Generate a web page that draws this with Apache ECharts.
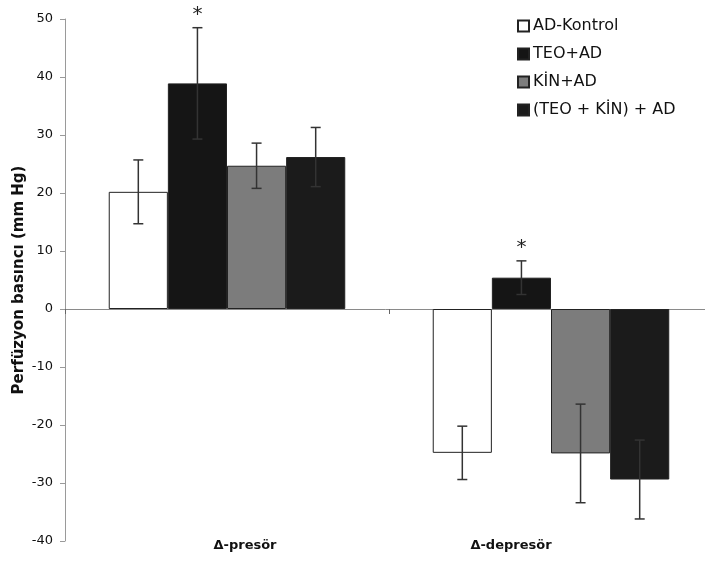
<!DOCTYPE html>
<html>
<head>
<meta charset="utf-8">
<script src="https://cdn.jsdelivr.net/npm/echarts@6/dist/echarts.min.js"></script>
<style>
html,body{margin:0;padding:0;background:#fff;}
#chart{width:705px;height:562px;}
</style>
</head>
<body>
<div id="chart"></div>
<script>
const categories = ['Δ-presör', 'Δ-depresör'];
const seriesNames = ['AD-Kontrol', 'TEO+AD', 'KİN+AD', '(TEO + KİN) + AD'];
const adKontrol = [20.2, -24.8];
const teoAd = [38.9, 5.4];
const kinAd = [24.7, -24.9];
const teoKinAd = [26.2, -29.4];
const adKontrolErr = [5.5, 4.6];
const teoAdErr = [9.6, 2.9];
const kinAdErr = [3.9, 8.5];
const teoKinAdErr = [5.1, 6.8];
const significant = [[0, 0], [1, 1], [0, 0], [0, 0]];
const yTicks = [-40, -30, -20, -10, 0, 10, 20, 30, 40, 50];

const values = [adKontrol, teoAd, kinAd, teoKinAd];
const errors = [adKontrolErr, teoAdErr, kinAdErr, teoKinAdErr];
const colors = ['#ffffff', '#151515', '#7c7c7c', '#1b1b1b'];
const GAP = 0.27;

const errData = [];
values.forEach((vals, s) => {
  vals.forEach((v, c) => {
    errData.push([c, v, errors[s][c], s, significant[s][c]]);
  });
});

const chart = echarts.init(document.getElementById('chart'), null, {renderer: 'canvas'});
const font = 'DejaVu Sans, Arial, sans-serif';

const barSeries = seriesNames.map((name, s) => ({
  name: name,
  type: 'bar',
  data: values[s],
  barGap: '0%',
  barCategoryGap: (GAP * 100) + '%',
  itemStyle: {color: colors[s], borderColor: '#222', borderWidth: 1},
  emphasis: {disabled: true},
  animation: false
}));

const option = {
  backgroundColor: '#ffffff',
  animation: false,
  grid: {left: 65, width: 648, top: 19, bottom: 21, containLabel: false, outerBoundsMode: 'none'},
  legend: {
    data: seriesNames,
    orient: 'vertical',
    left: 517,
    top: 18,
    padding: 0,
    itemWidth: 11,
    itemHeight: 11,
    itemGap: 12,
    icon: 'rect',
    textStyle: {fontFamily: font, fontSize: 16, color: '#111', padding: [0, 0, 0, -1]}
  },
  xAxis: [
    {
      type: 'category',
      data: categories,
      axisLine: {onZero: true, lineStyle: {color: '#8a8a8a', width: 1}},
      axisTick: {show: true, length: 5, lineStyle: {color: '#666'}},
      axisLabel: {show: false},
      splitLine: {show: false}
    },
    {
      type: 'category',
      data: categories,
      position: 'bottom',
      axisLine: {show: false, onZero: false},
      axisTick: {show: false},
      axisLabel: {
        show: true,
        margin: -2,
        formatter: function (v, i) { return i === 0 ? '{a|' + v + '}' : '{b|' + v + '}'; },
        rich: {
          a: {fontFamily: font, fontSize: 13, fontWeight: 'bold', color: '#111', padding: [0, 0, 0, 36]},
          b: {fontFamily: font, fontSize: 13, fontWeight: 'bold', color: '#111', padding: [0, 80, 0, 0]}
        }
      }
    }
  ],
  yAxis: {
    type: 'value',
    min: yTicks[0],
    max: yTicks[yTicks.length - 1],
    interval: 10,
    name: 'Perfüzyon basıncı (mm Hg)',
    nameLocation: 'middle',
    nameGap: 38,
    nameMoveOverlap: false,
    nameTextStyle: {fontFamily: font, fontSize: 15, fontWeight: 'bold', color: '#111'},
    axisLine: {show: true, lineStyle: {color: '#9a9a9a'}},
    axisTick: {show: true, length: 5, lineStyle: {color: '#9a9a9a'}},
    axisLabel: {fontFamily: font, fontSize: 13, color: '#111', margin: 12},
    splitLine: {show: false}
  },
  series: barSeries.concat([{
    type: 'custom',
    name: 'err',
    data: errData,
    z: 5,
    silent: true,
    renderItem: function (params, api) {
      const c = api.value(0), m = api.value(1), e = api.value(2), s = api.value(3), star = api.value(4);
      const band = api.size([1, 0])[0];
      const bw = band * (1 - GAP) / 4;
      const cx = api.coord([c, 0])[0] + (s - 1.5) * bw;
      const yT = api.coord([c, m + e])[1];
      const yB = api.coord([c, m - e])[1];
      const cap = 5;
      const st = {stroke: '#333', lineWidth: 1.5};
      const children = [
        {type: 'line', shape: {x1: cx, y1: yT, x2: cx, y2: yB}, style: st},
        {type: 'line', shape: {x1: cx - cap, y1: yT, x2: cx + cap, y2: yT}, style: st},
        {type: 'line', shape: {x1: cx - cap, y1: yB, x2: cx + cap, y2: yB}, style: st}
      ];
      if (star) {
        children.push({type: 'text', style: {text: '*', x: cx, y: yT - 13, align: 'center', verticalAlign: 'middle',
          fontFamily: font, fontSize: 20, fill: '#222'}});
      }
      return {type: 'group', children: children};
    }
  }])
};
chart.setOption(option);
</script>
</body>
</html>
